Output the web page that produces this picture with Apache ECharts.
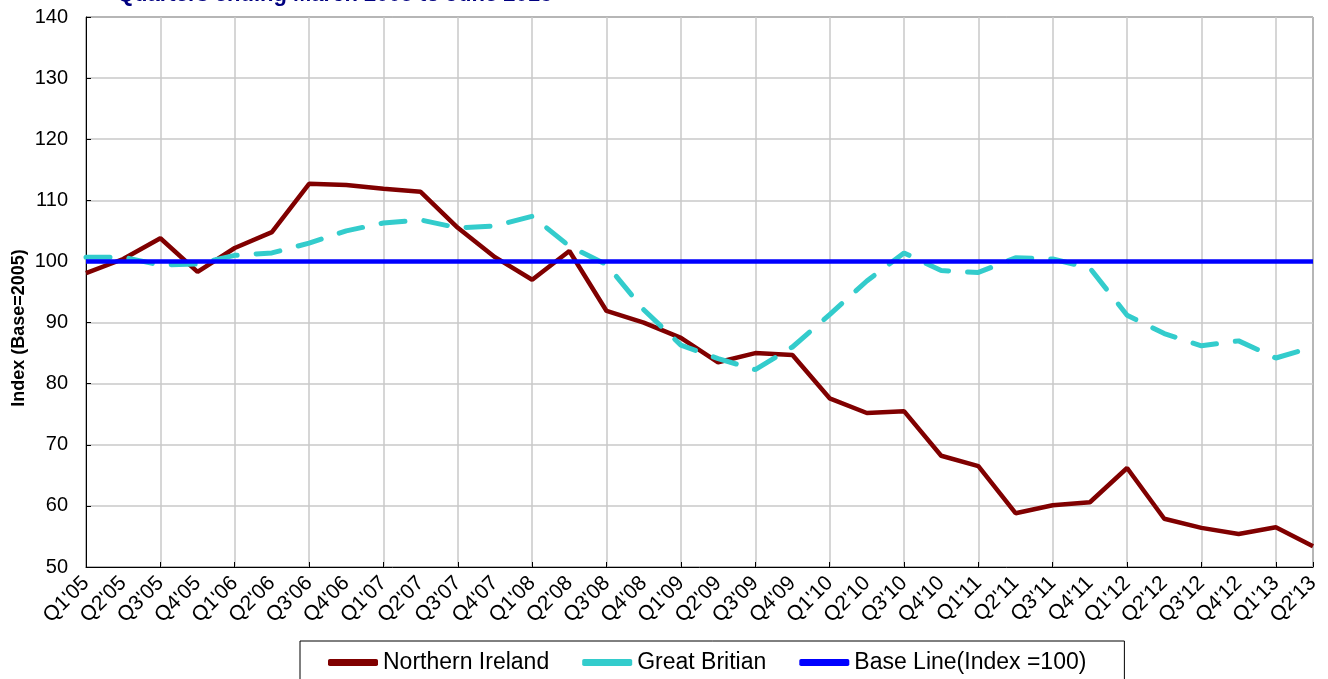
<!DOCTYPE html>
<html>
<head>
<meta charset="utf-8">
<script src="https://cdn.jsdelivr.net/npm/echarts@6/dist/echarts.min.js"></script>
<style>
html,body{margin:0;padding:0;background:#fff;}
#chart{width:1328px;height:679px;}
</style>
</head>
<body>
<div id="chart"></div>
<script>
const categories = ["Q1'05","Q2'05","Q3'05","Q4'05","Q1'06","Q2'06","Q3'06","Q4'06","Q1'07","Q2'07","Q3'07","Q4'07","Q1'08","Q2'08","Q3'08","Q4'08","Q1'09","Q2'09","Q3'09","Q4'09","Q1'10","Q2'10","Q3'10","Q4'10","Q1'11","Q2'11","Q3'11","Q4'11","Q1'12","Q2'12","Q3'12","Q4'12","Q1'13","Q2'13"];
const northernIreland = [98.1,100.4,103.8,98.3,102.2,104.8,112.7,112.5,111.9,111.4,105.5,100.7,97.0,101.7,91.9,90.0,87.5,83.5,85.0,84.7,77.6,75.2,75.5,68.2,66.5,58.8,60.1,60.6,66.2,57.9,56.4,55.4,56.5,53.4];
const greatBritain = [100.7,100.7,99.4,99.6,101.0,101.4,103.0,105.0,106.3,106.8,105.5,105.8,107.4,102.5,99.5,92.1,86.3,84.1,82.3,86.0,91.3,96.8,101.4,98.5,98.2,100.6,100.4,98.9,91.2,88.2,86.2,87.0,84.2,86.0];
const baseLine = categories.map(() => 100);
const yTicks = {min: 50, max: 140, step: 10};

const chart = echarts.init(document.getElementById('chart'));
chart.setOption({
  animation: false,
  backgroundColor: '#fff',
  title: {
    text: 'Quarters ending March 2005 to June 2013',
    left: 117, top: -16, padding: 0,
    textStyle: {color: '#000080', fontSize: 22, fontWeight: 'bold', fontFamily: 'Liberation Sans, Arial'}
  },
  graphic: [{
    type: 'text', x: 19, y: 328, rotation: Math.PI / 2,
    style: {text: 'Index (Base=2005)', fill: '#000', font: 'bold 18px "Liberation Sans", Arial',
            align: 'center', verticalAlign: 'middle'}
  }],
  grid: {left: 86, right: 15, top: 17, bottom: 112, show: true, borderColor: '#000', borderWidth: 1},
  legend: {
    left: 300, top: 641,
    padding: [10, 38, 22, 28],
    borderColor: '#000', borderWidth: 1, backgroundColor: '#fff',
    icon: 'roundRect', itemWidth: 50, itemHeight: 7, itemGap: 33,
    textStyle: {fontSize: 23, color: '#000', fontFamily: 'Liberation Sans, Arial'},
    data: ['Northern Ireland', 'Great Britian', 'Base Line(Index =100)']
  },
  xAxis: {
    type: 'category', data: categories, boundaryGap: false,
    axisLine: {lineStyle: {color: '#000', width: 1}},
    axisTick: {show: true, inside: true, interval: 1, length: 5, lineStyle: {color: '#000'}},
    splitLine: {show: true, interval: 1, lineStyle: {color: '#c8c8c8', width: 1.5}},
    axisLabel: {interval: 0, rotate: 45, fontSize: 21, color: '#000', margin: 13, fontFamily: 'Liberation Sans, Arial'}
  },
  yAxis: {
    type: 'value', min: yTicks.min, max: yTicks.max, interval: yTicks.step,
    axisLine: {show: true, lineStyle: {color: '#000', width: 1}},
    axisTick: {show: true, inside: true, length: 5, lineStyle: {color: '#000'}},
    splitLine: {show: true, lineStyle: {color: '#c8c8c8', width: 1.5}},
    axisLabel: {fontSize: 20, color: '#000', margin: 18, fontFamily: 'Liberation Sans, Arial'}
  },
  series: [
    {name: 'Northern Ireland', type: 'line', data: northernIreland, symbol: 'none',
     lineStyle: {color: '#800000', width: 4.5}, itemStyle: {color: '#800000'}, z: 2},
    {name: 'Great Britian', type: 'line', data: greatBritain, symbol: 'none',
     lineStyle: {color: '#33CCCC', width: 5, type: [24, 19], cap: 'round'}, itemStyle: {color: '#33CCCC'}, z: 3},
    {name: 'Base Line(Index =100)', type: 'line', data: baseLine, symbol: 'none',
     lineStyle: {color: '#0000FF', width: 4.5}, itemStyle: {color: '#0000FF'}, z: 4}
  ]
});
</script>
</body>
</html>
